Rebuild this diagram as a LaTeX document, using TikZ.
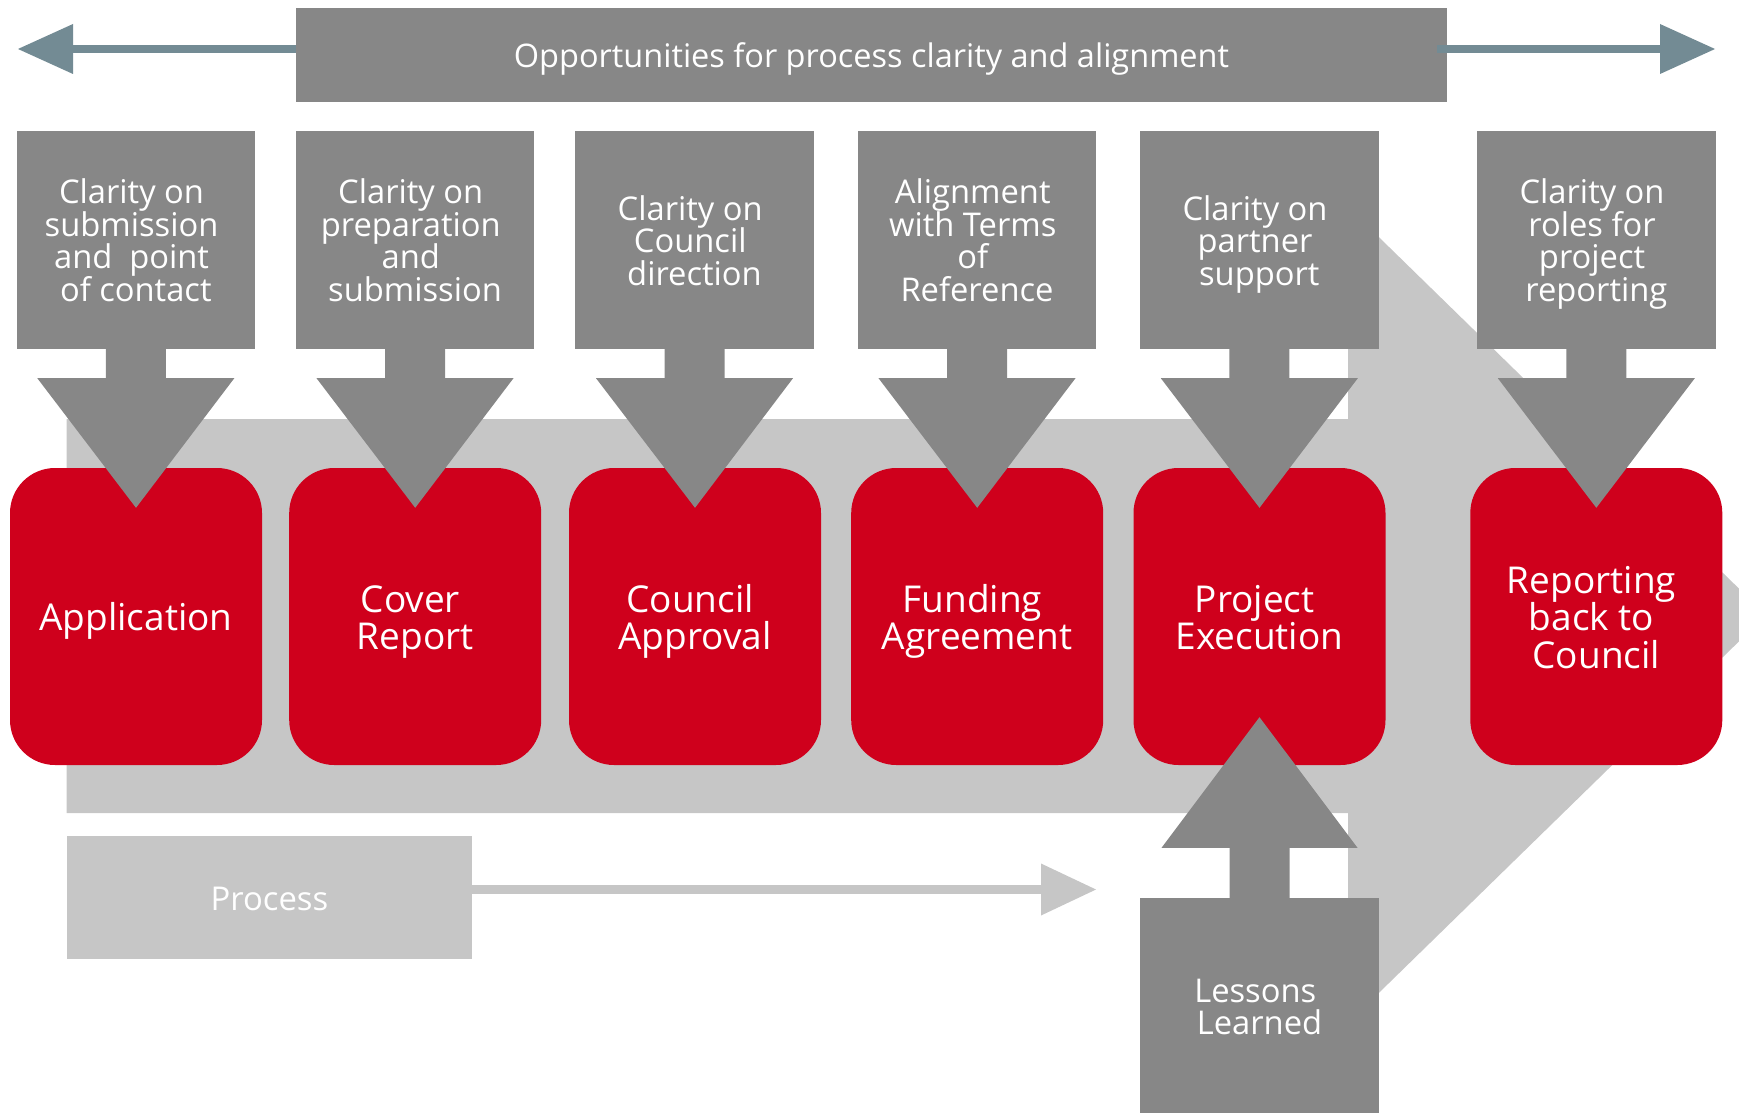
\documentclass[tikz,border=0pt]{standalone}
\usepackage{fontspec}
\setmainfont{Open Sans}
\usetikzlibrary{calc,arrows.meta}
\definecolor{dgray}{RGB}{135,135,135}
\definecolor{lgray}{RGB}{198,198,198}
\definecolor{cred}{RGB}{207,0,28}
\definecolor{slate}{RGB}{115,139,148}
\AtBeginDocument{\lineskiplimit=-50pt\relax}
% line-box struts (font ascent / descent) and trailing space
\newcommand\topst{\rule{0pt}{1.069em}}
\newcommand\botst{\rule[-0.293em]{0pt}{0.293em}}
\newcommand\tsp{\hbox to 0.26em{}}
\tikzset{
  graybox/.style={fill=dgray, minimum width=238.5pt, minimum height=218pt, inner sep=0pt,
    text=white, align=center, font=\fontsize{32.7}{32.5}\selectfont},
  redbox/.style={fill=cred, rounded corners=45pt, minimum width=252pt, minimum height=297pt,
    inner sep=0pt, text=white, align=center, font=\fontsize{37}{37.5}\selectfont},
  barbox/.style={fill=dgray, minimum width=1151pt, minimum height=94pt, inner sep=0pt,
    text=white, font=\fontsize{32.5}{33}\selectfont},
  procbox/.style={fill=lgray, minimum width=405pt, minimum height=123pt, inner sep=0pt,
    text=white, font=\fontsize{32.8}{33}\selectfont},
  lessonbox/.style={fill=dgray, minimum width=239pt, minimum height=215pt, inner sep=0pt,
    text=white, align=center, font=\fontsize{32.7}{32.3}\selectfont},
  sidearrow/.style={draw=slate, line width=8pt, -{Triangle[length=55pt,width=50pt,line width=0pt]}},
  procarrow/.style={draw=lgray, line width=9pt, -{Triangle[length=55pt,width=52pt,line width=0pt]}},
}
\newcommand\downblock[2]{%
  \fill[dgray] ($(#1.south)+(-30,-1)$) -- ($(#1.south)+(30,-1)$) -- ($(#1.south)+(30,29)$)
    -- ($(#1.south)+(98.5,29)$) -- ($(#2.north)+(0,40)$) -- ($(#1.south)+(-98.5,29)$)
    -- ($(#1.south)+(-30,29)$) -- cycle;}
\begin{document}
\begin{tikzpicture}[x=1pt,y=-1pt]
\useasboundingbox (0,0) rectangle (1739,1113);
% background process band with big arrowhead
\fill[lgray] (66.5,419) -- (1348,419) -- (1348,207) -- (1766,615) -- (1348,1023)
  -- (1348,813) -- (66.5,813) -- cycle;
% process legend
\node[procbox] (proc) at (269.5,897.5) {\topst Process\botst};
\coordinate (ptip) at (1096,889.5);
\draw[procarrow] (proc.east |- ptip) -- (ptip);
% gray boxes
\node[graybox] (g1) at (135.8,240) {\topst Clarity on\tsp\\submission\tsp\\and~~point\tsp\\of contact\botst};
\node[graybox] (g2) at (415,240) {\topst Clarity on\tsp\\preparation\tsp\\and\tsp\\submission\botst};
\node[graybox] (g3) at (694.5,240) {\topst Clarity on\tsp\\Council\tsp\\direction\botst};
\node[graybox] (g4) at (977,240) {\topst Alignment\tsp\\with Terms\tsp\\of\tsp\\Reference\botst};
\node[graybox] (g5) at (1259.3,240) {\topst Clarity on\tsp\\partner\tsp\\support\botst};
\node[graybox] (g6) at (1596.3,240) {\topst Clarity on\tsp\\roles for\tsp\\project\tsp\\reporting\botst};
% red boxes
\node[redbox] (r1) at (136,616.5) {\topst Application\botst};
\node[redbox] (r2) at (415.2,616.5) {\topst Cover\tsp\\Report\botst};
\node[redbox] (r3) at (695,616.5) {\topst Council\tsp\\Approval\botst};
\node[redbox] (r4) at (977.2,616.5) {\topst Funding\tsp\\Agreement\botst};
\node[redbox] (r5) at (1259.5,616.5) {\topst Project\tsp\\Execution\botst};
\node[redbox] (r6) at (1596.3,616.5) {\topst Reporting\tsp\\back to\tsp\\Council\botst};
% down arrows
\downblock{g1}{r1}
\downblock{g2}{r2}
\downblock{g3}{r3}
\downblock{g4}{r4}
\downblock{g5}{r5}
\downblock{g6}{r6}
% lessons learned
\node[lessonbox] (ll) at (1259.5,1005.5) {\topst Lessons\tsp\\Learned\botst};
\fill[dgray] ($(ll.north)+(-30,1)$) -- ($(ll.north)+(-30,-50)$) -- ($(ll.north)+(-98,-50)$)
  -- ($(r5.south)+(0,-48)$) -- ($(ll.north)+(98,-50)$) -- ($(ll.north)+(30,-50)$)
  -- ($(ll.north)+(30,1)$) -- cycle;
% top bar
\node[barbox] (opp) at (871.5,55) {\topst Opportunities for process clarity and alignment\botst};
\coordinate (ltip) at (18,49);
\coordinate (rtip) at (1715,49);
\draw[sidearrow] (opp.west |- ltip) -- (ltip);
\draw[sidearrow] ($(opp.east |- rtip)+(-10,0)$) -- (rtip);
\end{tikzpicture}
\end{document}
